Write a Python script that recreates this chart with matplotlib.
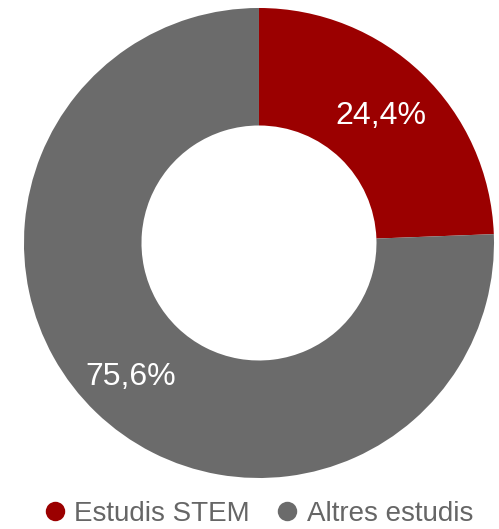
import matplotlib
matplotlib.use('Agg')
import matplotlib.pyplot as plt
from matplotlib.lines import Line2D
import numpy as np

plt.rcParams['font.family'] = ['Liberation Sans', 'DejaVu Sans']

# dades
categories = ['Estudis STEM', 'Altres estudis']
values = [24.4, 75.6]
colors = ['#9b0000', '#6b6b6b']

fig = plt.figure(figsize=(4.99, 5.29), dpi=100)
ax = fig.add_axes([0.048, 0.0964, 0.942, 0.8885])

wedges, _ = ax.pie(values, colors=colors, startangle=90, counterclock=False,
                   radius=1.0, wedgeprops=dict(width=0.5, edgecolor='none'))

# etiquetes de percentatge dins l'anell
for w, v, r in zip(wedges, values, [0.75, 0.79]):
    ang = np.deg2rad((w.theta1 + w.theta2) / 2)
    ax.text(r * np.cos(ang), r * np.sin(ang), f'{v:.1f}%'.replace('.', ','),
            ha='center', va='center', color='white', fontsize=23)

ax.set_xlim(-1, 1)
ax.set_ylim(-1, 1)
ax.set_aspect('equal')
ax.axis('off')

handles = [Line2D([0], [0], marker='o', linestyle='none', markersize=14,
                  markerfacecolor=c, markeredgecolor='none') for c in colors]
fig.legend(handles, categories, loc='center', bbox_to_anchor=(0.515, 0.028),
           ncol=2, frameon=False, fontsize=20, labelcolor='#666666',
           handletextpad=0.2, columnspacing=0.85, handlelength=1.0)

fig.savefig('out.png', dpi=100)
